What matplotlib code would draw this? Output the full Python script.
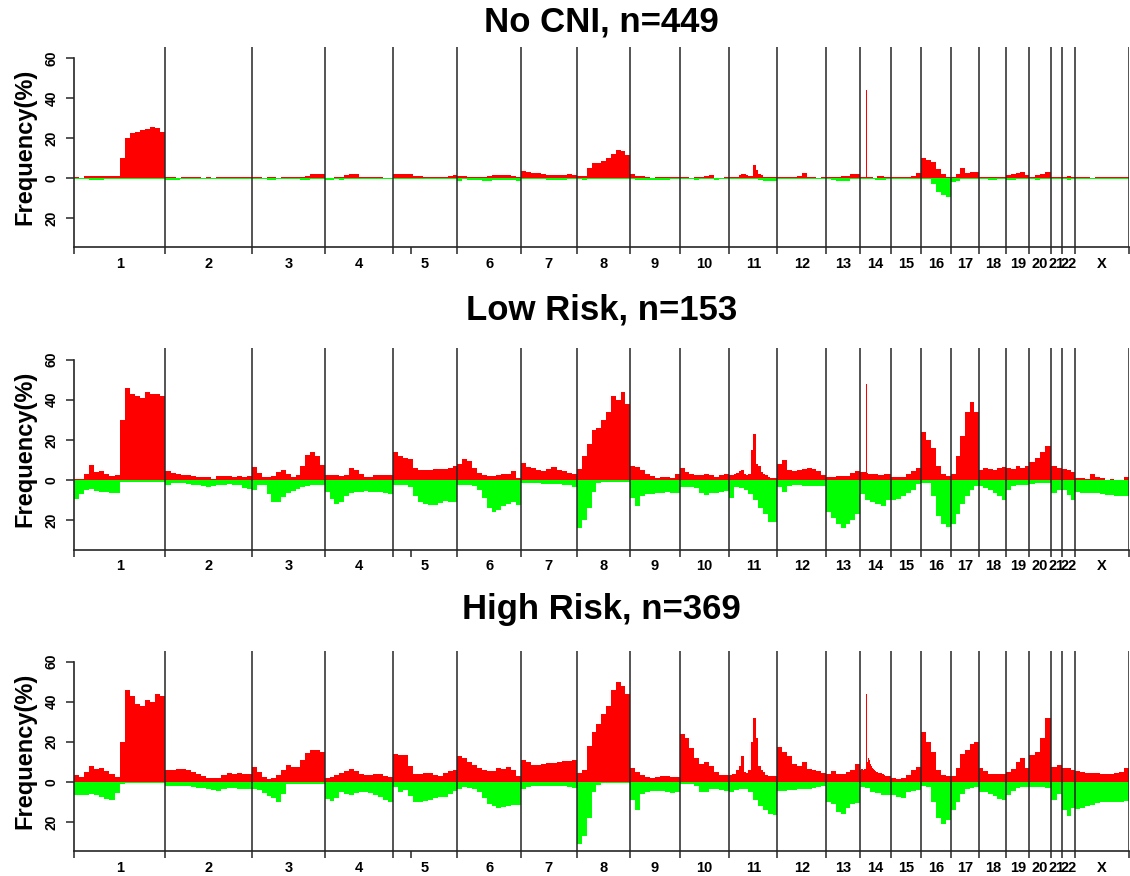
import numpy as np
import matplotlib
matplotlib.use('Agg')
import matplotlib.pyplot as plt
from matplotlib.ticker import FuncFormatter, FixedLocator

plt.rcParams['font.family'] = ['Liberation Sans', 'DejaVu Sans']
plt.rcParams['font.weight'] = 'bold'

# chromosome names and their widths on the genome axis
CHROMS = ['1', '2', '3', '4', '5', '6', '7', '8', '9', '10', '11', '12',
          '13', '14', '15', '16', '17', '18', '19', '20', '21', '22', 'X']
CHROM_LEN = [91.7, 86.5, 72.7, 68.0, 64.8, 63.2, 56.4, 53.1, 49.4, 49.5, 48.4, 48.7,
             33.8, 30.9, 29.8, 30.6, 27.6, 27.6, 22.6, 21.8, 11.6, 12.8, 53.8]
ODD_TICK = 337.2

TITLES = ['No CNI, n=449', 'Low Risk, n=153', 'High Risk, n=369']

# gain / loss frequency (%) per chromosome, evenly spaced bins along each chromosome
NOCNI_GAIN = [
    [0.8, 0, 1, 1, 1, 1, 1, 1, 1, 10, 20, 22.5, 23, 24, 24.5, 25.5, 25, 23],
    [0.8, 0.8, 0.3, 0.8, 0.8, 0.8, 0.8, 0, 0.5, 0, 0.5, 0.8, 0.8, 0.8, 0.8, 0.8, 0.5],
    [0.8, 0.8, 0, 0.8, 0.8, 0, 0.8, 0.8, 0.8, 0.8, 0.8, 1, 2, 2.3, 2.3],
    [0, 0, 0.8, 0.8, 1.5, 2, 2, 0.8, 0.8, 0.5, 0.8, 0.5, 0, 0],
    [2, 2.2, 2.2, 2, 1.3, 1.2, 0.8, 0.8, 0.8, 0.8, 0.8, 1, 1.7],
    [1.2, 1.2, 0.8, 0.8, 0.8, 0.5, 1, 1.5, 1.5, 1.5, 1.5, 1.2, 0.8],
    [3.5, 3, 2.5, 2.5, 2.2, 1.8, 1.7, 1.7, 1.7, 2, 1.8],
    [1.3, 1.3, 5, 7.5, 7.8, 8.5, 10, 12, 14, 13.5, 11.5],
    [2, 1.2, 1.2, 0.8, 0.3, 0.8, 0.8, 0.8, 0.8, 0.8],
    [0.8, 0.8, 0, 0.8, 0.8, 1, 1.5, 0, 0.3, 0.8],
    [0.8, 0.8, 0.8, 0.8, 1.5, 2, 2, 1.5, 1, 1.2, 6.5, 4, 2, 1.5, 0.8, 0.8, 0.8, 0.8, 0.8, 0.8],
    [0.8, 0.8, 0.8, 0.8, 1.2, 2.5, 0.8, 0.8, 0.3, 0.8],
    [0.8, 0.8, 0.8, 1.2, 1.3, 2, 2],
    [0.8, 0.8, 0.8, 0.8, 0.8, 0.8, 44, 0.8, 0.8, 0.8, 0.8, 0.8, 0.8, 0, 0, 0, 0,
     1.2, 1.2, 1.2, 1.2, 1.2, 1.2, 1.2, 0.8, 0.8, 0.8, 0.8, 0.8, 0.8, 0.8],
    [0.8, 0.8, 0.8, 0.8, 1.3, 2.5],
    [10, 9.3, 8, 4.5, 2, 0.8],
    [0.8, 2, 5, 2.5, 3, 3],
    [0.8, 0.8, 0.8, 0.8, 0.8, 0.8],
    [1.5, 2.3, 2.5, 3, 1.5],
    [0.8, 1.5, 2.2, 3],
    [0.8, 0.8],
    [0.8, 1, 0.8],
    [0.8, 0.8, 0.8, 0, 0.8, 0.8, 0.8, 0.8, 0.8, 0.8, 0.8],
]
NOCNI_LOSS = [
    [0.5, 0.8, 0.3, 0.3, 0.3, 0.3],
    [0.8, 0.3, 0.3, 0.3, 0.3, 0.3],
    [0.3, 0.3, 0.3, 0.8, 0.8, 0.3, 0.3, 0.3, 0.3, 0.3, 0.8, 0.8, 0.3, 0.3, 0.3],
    [1, 1, 0.3, 0.8, 0.3, 0.3, 0.3, 0.3, 0.3, 0.3, 0.3, 0.3, 0.3, 0.3],
    [0.3, 0.3, 0.3, 0.3],
    [1.2, 0.5, 0.8, 0.8, 1, 1.5, 1.5, 1, 1, 1, 1, 1, 1.2],
    [0.3, 0.3, 0.3, 0.3, 0.5, 0.8, 0.8, 0.8, 0.8, 0.5, 0.5],
    [0.5, 0.8, 0.3, 0.3, 0.3, 0.3, 0.3, 0.3, 0.3, 0.3, 0.3],
    [0.5, 0.8, 0.8, 0.8, 0.8, 0.8, 0.8, 0.8, 0.3, 0.3],
    [0.3, 0.3, 0.3, 0.8, 0.3, 0.3, 0.3, 0.8, 0.3, 0.3],
    [0.3, 0.3, 0.3, 0.3, 0.3, 0.3, 0.8, 1.3, 1.5, 1.3],
    [0.3, 0.3, 0.3, 0.3],
    [0.3, 0.8, 1.2, 1.3, 1.2, 0.5, 0.3],
    [0.3, 0.3, 0.3, 0.8, 0.8, 0.3],
    [0.3, 0.3, 0.3],
    [0.5, 0.5, 3, 7, 8.5, 9.5],
    [2, 1.2, 0.5, 0.3, 0.3, 0.3],
    [0.3, 0.3, 0.8, 0.8, 0.3, 0.5],
    [0.8, 0.8, 0.3, 0.3, 0.3],
    [0.3, 0.8, 0.3, 0.3],
    [0.3, 0.3],
    [0.3, 0.8, 0.3],
    [0.3, 0.3, 0.3],
]

LOW_GAIN = [
    [0.8, 0.8, 3, 7.7, 4, 4.5, 3.3, 2.3, 2.5, 30, 46, 43, 42, 41, 44, 43, 43, 42],
    [4.6, 3.8, 3, 2.8, 2.5, 2.2, 1.6, 1.4, 1.6, 0.8, 2, 2.2, 2.2, 1.8, 2, 1.4, 2.2],
    [6.5, 3.5, 1.5, 1.8, 2.2, 4, 5, 3.2, 1.8, 2.5, 7, 12.5, 14, 12, 7.5],
    [2.4, 2.8, 2.6, 2.2, 2.8, 6, 5, 3, 1.5, 1.4, 2.6, 2.6, 2.6, 2.6],
    [14, 11.8, 11, 10.5, 6, 5, 5, 5.2, 5.4, 5.4, 5.6, 5.8, 7],
    [8, 10.5, 9.5, 6, 3.5, 2.5, 2, 2, 2.8, 3, 3, 4.5, 1],
    [8.5, 6.5, 6, 5.2, 4.8, 5.5, 6.5, 5, 4.5, 3.6, 3],
    [5.5, 12, 18, 25, 26, 30, 34, 42, 40, 44, 38],
    [7, 6.5, 5, 3, 2, 1, 1.6, 1.5, 1, 3],
    [6, 4, 3, 2.5, 2.5, 3, 2.5, 1.8, 2.5, 3],
    [2.5, 2.8, 3.3, 3.5, 4.5, 5, 3, 2.5, 3, 15, 23, 8, 7, 4, 3, 2.5, 1.5, 1.3, 1.3, 1.3],
    [8, 10, 5, 4.5, 5, 5.5, 6, 5.5, 4.5, 2.5],
    [1.6, 1.6, 2, 2, 2.3, 3.5, 4.5],
    [4, 4, 4, 4, 4, 4, 48, 3.5, 3.3, 3.3, 3.3, 3.3, 3.3, 3.3, 3.3, 3.3, 3.3,
     3, 2.5, 2.5, 2.5, 2.5, 2.5, 2.5, 3, 3, 3, 3, 3, 3, 3],
    [1.6, 1.6, 1.8, 3, 4.8, 6],
    [24, 20, 16, 7, 3, 2],
    [3, 12, 22, 34, 39, 34],
    [5, 6, 5.5, 5, 6, 6.5],
    [6, 5.5, 7, 6, 7],
    [9, 11, 14, 17],
    [7, 6],
    [5.5, 5, 4],
    [1.3, 1, 0.8, 3, 1.5, 1, 0.3, 0.5, 0.3, 0.3, 1.5],
]
LOW_LOSS = [
    [9.5, 7, 5, 4.6, 5.5, 6, 6, 6.2, 6.5, 1, 1, 0.8, 0.8, 0.8, 0.8, 0.8, 0.7, 0.8],
    [2.5, 1.2, 1.2, 1.5, 2, 2.2, 2.5, 3, 3.5, 2.8, 2.6, 2.3, 2, 2.2, 2.6, 4, 4.5],
    [5, 2.5, 2.5, 7, 11, 11, 8.5, 6.5, 5.5, 4.5, 3.5, 3, 2.6, 2.4, 2.4],
    [6, 9.5, 12, 11, 8, 6.5, 6, 5.8, 5.6, 5.8, 6, 6, 6.2, 6.8],
    [2.5, 2.5, 2.5, 3.5, 8, 11, 12, 12.3, 12.3, 11.5, 10.6, 10.8, 11],
    [2.5, 2.2, 2.5, 3, 5, 9, 14, 16, 15, 13, 12, 11, 12.5],
    [1.5, 1.5, 1.6, 1.6, 1.8, 2, 2, 2, 2.2, 2.5, 3.5],
    [24, 20, 14, 6, 1.5, 1, 0.8, 0.8, 0.8, 0.8, 0.8],
    [9, 13, 8, 7, 7, 6.5, 6.2, 6, 6.5, 6.5],
    [3.5, 3.3, 3.5, 4, 6.5, 7.5, 6.5, 6.5, 6, 5.5],
    [9, 3.5, 4, 5, 7, 10, 14, 17, 21, 21],
    [3.5, 6, 3, 2.6, 2.6, 2.8, 2.8, 3, 2.8, 2.8],
    [16, 19, 22, 24, 22, 20, 17],
    [7, 10, 11, 12, 13, 10],
    [10, 9.5, 8, 6.5, 5, 2],
    [1.6, 1.6, 8, 18, 22, 23.5],
    [22, 17, 12, 8, 5, 3],
    [3, 4, 5, 6.5, 8, 10],
    [5, 3, 2.5, 2.5, 2.5],
    [1.8, 1.6, 1.6, 1.6],
    [6.5, 5],
    [5, 7.5, 10],
    [6, 6.2, 6.2, 6.5, 6.5, 7, 7.5, 7.5, 7.8, 7.8, 8],
]

HIGH_GAIN = [
    [3.5, 2.5, 5, 8, 6.5, 7, 5.5, 4, 2.6, 20, 46, 43, 39, 38, 41, 40, 44, 43],
    [6, 6, 6.5, 6.5, 6, 5, 4, 3, 2.1, 2.1, 2.1, 3.5, 4.5, 4, 4.5, 4, 3.7],
    [7.5, 5, 2.5, 1.6, 1.8, 3.5, 6, 8.5, 7.5, 7.5, 11, 14.5, 16, 16, 15],
    [2, 2.2, 3.5, 4.5, 5.5, 6.5, 5.5, 4, 3.3, 3.3, 3.7, 4, 3, 2.6],
    [14, 13.5, 13.5, 8, 4, 4, 4.2, 4.2, 3.5, 3, 4.5, 5.5, 6],
    [13, 12, 10, 8.5, 7, 6, 5.5, 5.5, 7, 6.5, 7.5, 6, 3],
    [11, 10, 8.5, 8.5, 9, 9.5, 9.5, 10, 10.5, 10.5, 11],
    [4.5, 6, 18, 25, 29, 34, 38, 46, 50, 48, 44],
    [7, 5, 3.5, 2.5, 2, 2.6, 3, 2.8, 2.6, 2.6],
    [24, 22, 17, 12, 9, 10, 8, 5, 3.5, 3.3],
    [3.5, 3.7, 4, 6, 8, 13, 5, 4.5, 6, 20, 32, 22, 8, 6, 5, 3.5, 3, 2.8, 2.8, 3],
    [17.5, 15, 13, 9, 8, 10, 6.5, 6, 5.5, 4.5],
    [3.7, 5.5, 3.7, 4, 5, 6, 9],
    [6, 6.5, 6.5, 6, 6.2, 6.2, 44, 10, 12, 11, 9, 8, 7, 6.5, 6, 5.5, 5, 5,
     4.6, 4.6, 4.5, 4.2, 4, 3.8, 3.5, 3, 3, 2.9, 2.8, 2.9, 3],
    [2, 1.6, 2, 3.5, 6, 7.5],
    [25, 20, 15, 6, 3.5, 3],
    [2.9, 7, 14, 16, 19, 20],
    [7, 5.5, 4, 3.7, 3.7, 4],
    [5, 6.5, 10, 12, 7],
    [13.5, 15, 22, 32],
    [7.5, 8.5],
    [7, 7, 6],
    [5.4, 5, 4.5, 4.6, 4.2, 3.7, 3.7, 4, 4.5, 5, 7],
]
HIGH_LOSS = [
    [6.8, 6.8, 6.5, 6, 6.5, 7.5, 8.5, 9, 5.5, 1, 0.8, 0.8, 0.8, 0.8, 0.8, 0.8, 0.8, 0.8],
    [2, 2, 2, 2, 2.3, 2.5, 3, 3.3, 3.5, 4, 4.4, 3.5, 3, 3, 3.4, 3.6, 3.6],
    [3.5, 4, 5.5, 7, 8, 10, 6, 1.2, 1.1, 1, 1, 1, 1, 1, 1],
    [8.5, 9.5, 8, 5, 6, 6.5, 5.5, 5.2, 5, 5.5, 6.5, 7.5, 9, 10],
    [2.5, 5, 4, 7, 10, 10, 9.5, 9, 8, 7.5, 7.5, 6, 4.5],
    [3.5, 2.5, 3, 3.5, 5, 8, 11, 12, 13, 12.5, 12, 11.5, 11.5],
    [3.5, 2.5, 2.3, 2.3, 2.3, 2.3, 2.3, 2.3, 2.3, 2.5, 3],
    [31, 27, 18, 5, 1.5, 0.8, 0.7, 0.7, 0.7, 0.7, 0.7],
    [9, 14, 6, 5, 4.5, 4.4, 4.4, 5, 5.5, 5],
    [1.1, 1.1, 1.1, 2, 5, 5, 3.8, 3.6, 4.2, 4.4],
    [5, 4, 3.8, 3.6, 5, 9, 12, 14, 16, 16.5],
    [4.4, 4.5, 4.2, 4, 3.6, 3.5, 3.6, 3.2, 2.5, 2],
    [10, 11, 15, 16, 13, 11, 10.5],
    [2.5, 3, 5, 5.5, 6.5, 6.8],
    [6.8, 7.5, 8, 5, 4.5, 4],
    [2, 2.5, 10, 18, 21, 19],
    [14, 10, 6, 3.5, 3, 2.8],
    [5, 5.2, 6, 7, 8.5, 9],
    [6.5, 4.5, 3, 2.8, 2.6],
    [2.8, 2.6, 2.8, 3],
    [9, 6],
    [14, 17, 13],
    [13.5, 13, 12, 11.5, 10.5, 10, 10, 10, 10, 9.8, 9.5],
]

GAIN_COLOR = '#ff0000'
LOSS_COLOR = '#00ff00'
LINE_COLOR = '#262626'

panels = [(TITLES[0], NOCNI_GAIN, NOCNI_LOSS),
          (TITLES[1], LOW_GAIN, LOW_LOSS),
          (TITLES[2], HIGH_GAIN, HIGH_LOSS)]
rects = [[0.0653, 0.7175, 0.9339, 0.2289],
         [0.0653, 0.3727, 0.9339, 0.2295],
         [0.0653, 0.0285, 0.9339, 0.2289]]
title_y = [0.9749, 0.6461, 0.3037]

starts = np.concatenate([[0], np.cumsum(CHROM_LEN)])
centers = (starts[:-1] + starts[1:]) / 2

fig = plt.figure(figsize=(11.3, 8.76), dpi=100)

for (title, gain, loss), rect, ty in zip(panels, rects, title_y):
    ax = fig.add_axes(rect)
    for i in range(len(CHROMS)):
        g = np.array(gain[i], dtype=float)
        l = np.array(loss[i], dtype=float)
        ax.stairs(g, np.linspace(starts[i], starts[i + 1], len(g) + 1),
                  baseline=0, fill=True, color=GAIN_COLOR, lw=0)
        ax.stairs(-l, np.linspace(starts[i], starts[i + 1], len(l) + 1),
                  baseline=0, fill=True, color=LOSS_COLOR, lw=0)
    for b in starts[1:]:
        ax.axvline(b, color=LINE_COLOR, lw=1.1, zorder=3)

    ax.set_xlim(0, starts[-1])
    ax.set_ylim(-34.5, 65.5)

    ax.spines['top'].set_visible(False)
    ax.spines['right'].set_visible(False)
    for s in ['left', 'bottom']:
        ax.spines[s].set_linewidth(1.2)
        ax.spines[s].set_color(LINE_COLOR)
    ax.spines['left'].set_bounds(-34.5, 60)

    ax.xaxis.set_major_locator(FixedLocator(sorted(list(starts) + [ODD_TICK])))
    ax.xaxis.set_minor_locator(FixedLocator(centers))
    ax.set_xticklabels([], minor=False)
    ax.set_xticklabels(CHROMS, minor=True)
    ax.tick_params(axis='x', which='major', length=5, width=1.1, color=LINE_COLOR)
    ax.tick_params(axis='x', which='minor', length=0, pad=7, labelsize=10.5)

    ax.set_yticks([-20, 0, 20, 40, 60])
    ax.yaxis.set_major_formatter(FuncFormatter(lambda v, p: '%d' % abs(v)))
    ax.tick_params(axis='y', length=6, width=1.1, color=LINE_COLOR, labelsize=10,
                   labelrotation=90, pad=5)
    for lbl in ax.get_yticklabels():
        lbl.set_va('center')

    fig.text(0.5325, ty, title, ha='center', va='center', fontsize=25, fontweight='bold')
    ymid = rect[1] + rect[3] / 2
    fig.text(0.022, ymid, 'Frequency(%)', rotation=90, ha='center', va='center',
             fontsize=17, fontweight='bold')

fig.savefig('out.png', dpi=100)
